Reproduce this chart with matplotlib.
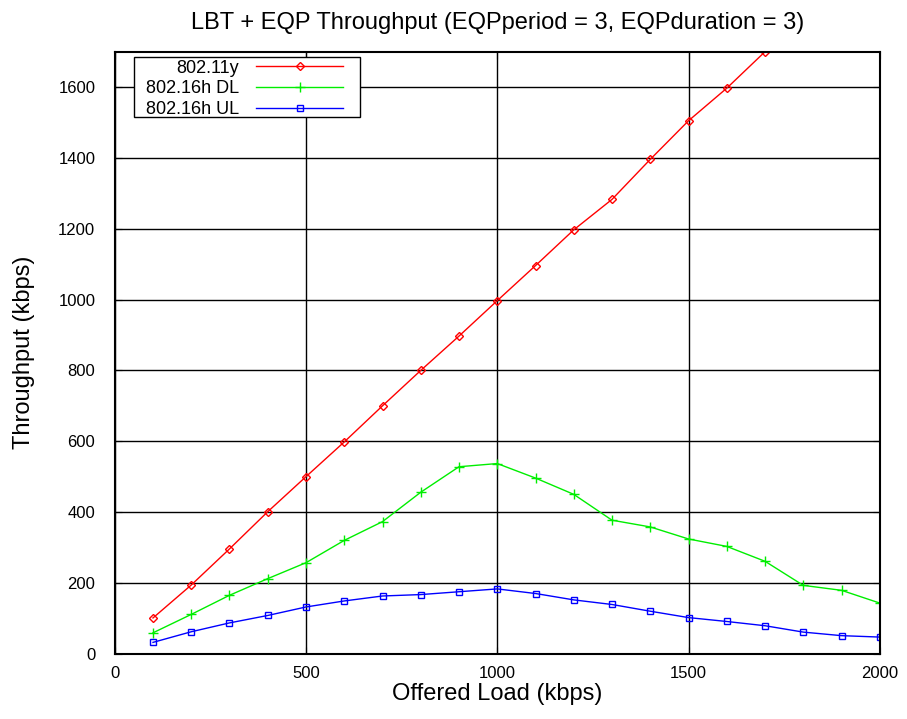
import matplotlib
matplotlib.use("Agg")
import matplotlib.pyplot as plt
from matplotlib.patches import Rectangle
from matplotlib.transforms import IdentityTransform

plt.rcParams['font.family'] = ['Liberation Sans', 'DejaVu Sans']

# offered load (kbps)
load_11y = [100, 200, 300, 400, 500, 600, 700, 800, 900, 1000,
            1100, 1200, 1300, 1400, 1500, 1600, 1700]
thr_11y = [101, 194, 296, 401, 500, 598, 700, 800, 897, 997,
           1096, 1197, 1283, 1396, 1505, 1597, 1700]

load_16h = [100, 200, 300, 400, 500, 600, 700, 800, 900, 1000,
            1100, 1200, 1300, 1400, 1500, 1600, 1700, 1800, 1900, 2000]
thr_dl = [59, 111, 165, 212, 257, 320, 373, 456, 528, 537,
          496, 450, 377, 358, 324, 303, 261, 193, 179, 143]
thr_ul = [32, 62, 87, 108, 132, 149, 163, 167, 175, 183,
          170, 152, 139, 120, 102, 91, 79, 61, 51, 47]

fig = plt.figure(figsize=(9.07, 7.19), dpi=100)
ax = fig.add_axes([0.1265, 0.0908, 0.8435, 0.8373])

ax.plot(load_11y, thr_11y, color='#ff0000', lw=1, marker='D', ms=4.5,
        mfc='none', mew=1, label='802.11y')
ax.plot(load_16h, thr_dl, color='#00ee00', lw=1, marker='+', ms=7,
        mew=1, label='802.16h DL')
ax.plot(load_16h, thr_ul, color='#0000ff', lw=1, marker='s', ms=4,
        mfc='none', mew=1, label='802.16h UL')

ax.set_xlim(0, 2000)
ax.set_ylim(0, 1700)
ax.set_xticks([0, 500, 1000, 1500, 2000])
ax.set_yticks(range(0, 1601, 200))
ax.grid(True, color='black', lw=1, ls='-')
ax.set_axisbelow(True)
ax.tick_params(direction='in', top=True, right=True, labelsize=12, length=5)
ax.tick_params(axis='y', pad=14)
ax.tick_params(axis='x', pad=9)
for s in ax.spines.values():
    s.set_linewidth(1.5)

ax.set_title('LBT + EQP Throughput (EQPperiod = 3, EQPduration = 3)',
             fontsize=17, pad=16)
ax.set_xlabel('Offered Load (kbps)', fontsize=17, labelpad=1)
ax.set_ylabel('Throughput (kbps)', fontsize=17, labelpad=17)

# gnuplot-style key: right-aligned labels, sample lines on the right
leg = ax.legend(loc='upper left', bbox_to_anchor=(0.041, 0.987),
                markerfirst=False, fontsize=13, frameon=False,
                handlelength=4.8, borderpad=0, labelspacing=0.22,
                handletextpad=0.95, borderaxespad=0)

# key box with uneven padding like the original
fig.canvas.draw()
bb = leg.get_window_extent()
box = Rectangle((bb.x0 - 12, bb.y0 + 1), bb.width + 29, bb.height + 2,
                transform=IdentityTransform(), facecolor='white',
                edgecolor='black', lw=1, zorder=4.9, clip_on=False)
ax.add_artist(box)

fig.savefig('out.png', dpi=100)
